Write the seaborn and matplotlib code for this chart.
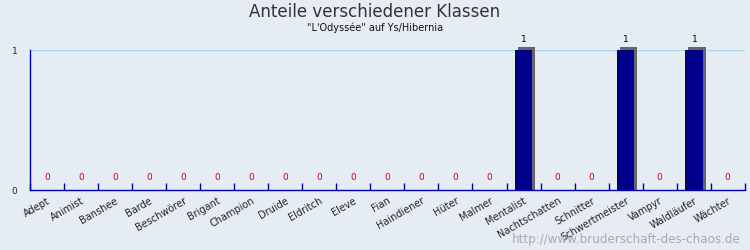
import matplotlib
matplotlib.use("Agg")
import matplotlib.pyplot as plt
import matplotlib.transforms as mtransforms
import seaborn as sns
import pandas as pd

categories = ["Adept", "Animist", "Banshee", "Barde", "Beschwörer", "Brigant", "Champion",
              "Druide", "Eldritch", "Eleve", "Fian", "Haindiener", "Hüter", "Malmer",
              "Mentalist", "Nachtschatten", "Schnitter", "Schwertmeister", "Vampyr",
              "Waldläufer", "Wächter"]
values = [0, 0, 0, 0, 0, 0, 0, 0, 0, 0, 0, 0, 0, 0, 1, 0, 0, 1, 0, 1, 0]

df = pd.DataFrame({"Klasse": categories, "Anzahl": values})

BG = "#e6ecf3"
sns.set_theme(style="white")
plt.rcParams["font.family"] = ["DejaVu Sans"]

fig = plt.figure(figsize=(7.5, 2.5), dpi=100, facecolor=BG)
AX_POS = [0.04, 0.24, 0.953, 0.56]
ax = fig.add_axes(AX_POS)
ax.set_facecolor(BG)

# shadow bars (3D-like extrusion: 3px right, 3px up, bottom fixed at axis)
sns.barplot(data=df, x="Klasse", y="Anzahl", color="#666666", width=0.52,
            saturation=1, ax=ax, zorder=2)
n_shadow = len(ax.patches)
y0 = AX_POS[1] * 250
h = AX_POS[3] * 250
extr = mtransforms.Affine2D().translate(0, -y0).scale(1, (h + 3) / h).translate(3, y0)
for p in ax.patches[:n_shadow]:
    p.set_transform(ax.transData + extr)
    p.set_clip_on(False)
    p.set_edgecolor("none")

sns.barplot(data=df, x="Klasse", y="Anzahl", color="#00008b", width=0.52,
            saturation=1, ax=ax, zorder=3)
for p in ax.patches[n_shadow:]:
    p.set_edgecolor("none")
    p.set_clip_on(False)

ax.set_xlim(-0.5, len(categories) - 0.5)
ax.set_ylim(0, 1)
ax.axhline(1, color="#a8d8ea", lw=1, zorder=1)

for i, v in enumerate(values):
    if v == 0:
        ax.text(i, 0.06, "0", ha="center", va="bottom", fontsize=6.5, color="#cc0000")
    else:
        ax.text(i + 0.02, v + 0.04, str(v), ha="center", va="bottom", fontsize=6.5, color="black")

ax.set_xticks([i - 0.5 for i in range(len(categories) + 1)])
ax.set_xticklabels([])
ax.set_xticks(range(len(categories)), minor=True)
ax.set_xticklabels(categories, minor=True, rotation=30, ha="right", rotation_mode="anchor",
                   fontsize=7, color="#222222")
ax.tick_params(axis="x", which="major", direction="in", length=5, color="#0000aa", width=1, bottom=True)
ax.tick_params(axis="x", which="minor", length=0, pad=4, bottom=True)
ax.set_yticks([0, 1])
ax.set_yticklabels(["0", "1"], fontsize=6.5)
ax.tick_params(axis="y", length=0, left=True, pad=9)

for s in ["top", "right"]:
    ax.spines[s].set_visible(False)
for s in ["left", "bottom"]:
    ax.spines[s].set_color("#0000aa")
    ax.spines[s].set_linewidth(1)

ax.set_xlabel("")
ax.set_ylabel("")

fig.text(0.5, 0.952, "Anteile verschiedener Klassen", ha="center", va="center",
         fontsize=12, color="#333333")
fig.text(0.5, 0.89, "\"L'Odyssée\" auf Ys/Hibernia", ha="center", va="center",
         fontsize=7, color="#111111")
fig.text(0.987, 0.04, "http://www.bruderschaft-des-chaos.de", ha="right", va="center",
         fontsize=8.6, color="#aaaaaa")

fig.savefig("out.png", dpi=100, facecolor=BG)
